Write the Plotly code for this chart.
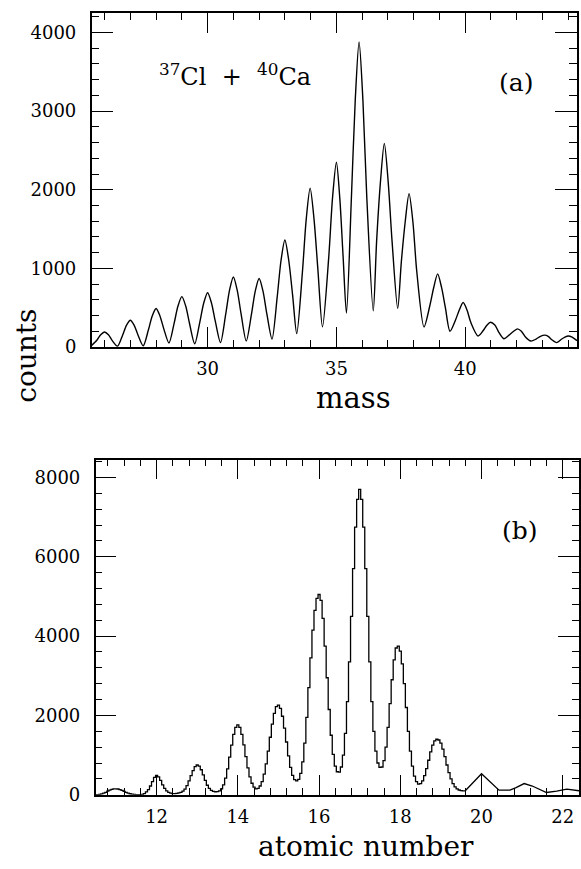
import plotly.graph_objects as go

# ---------------- panel (a): counts vs mass ----------------
MASS = [25.5, 25.7, 25.85, 26.0, 26.15, 26.3,
        26.5, 26.7, 26.85, 27.0, 27.15, 27.3,
        27.5, 27.7, 27.85, 28.0, 28.15, 28.3,
        28.5, 28.7, 28.85, 29.0, 29.15, 29.3,
        29.5, 29.7, 29.85, 30.0, 30.15, 30.3,
        30.5, 30.7, 30.85, 31.0, 31.15, 31.3,
        31.5, 31.7, 31.85, 32.0, 32.15, 32.3,
        32.5, 32.7, 32.85, 33.0, 33.15, 33.3,
        33.46, 33.68, 33.83, 33.98, 34.13, 34.28,
        34.46, 34.7, 34.85, 35.0, 35.13, 35.26,
        35.39, 35.58, 35.73, 35.88, 36.03, 36.18,
        36.43, 36.56, 36.71, 36.86, 37.01, 37.16,
        37.38, 37.52, 37.67, 37.82, 37.97, 38.12,
        38.40, 38.63, 38.78, 38.93, 39.08, 39.23,
        39.41, 39.62, 39.77, 39.92, 40.07, 40.22,
        40.5, 40.7, 40.85, 40.98, 41.15, 41.3,
        41.5, 41.7, 41.88, 42.03, 42.18, 42.33,
        42.55, 42.75, 42.92, 43.09, 43.22, 43.35,
        43.55, 43.72, 43.87, 44.0, 44.15, 44.34]
COUNTS_A = [20, 85, 155, 190, 155, 80,
            10, 150, 275, 340, 275, 150,
            15, 215, 395, 490, 395, 230,
            50, 300, 520, 640, 520, 295,
            40, 320, 560, 690, 560, 325,
            55, 410, 720, 890, 720, 420,
            75, 410, 710, 870, 710, 420,
            100, 630, 1100, 1360, 1100, 660,
            170, 950, 1630, 2020, 1630, 990,
            255, 1130, 1900, 2350, 1900, 1150,
            430, 1880, 3130, 3880, 3130, 1900,
            460, 1340, 2100, 2590, 2100, 1350,
            490, 1080, 1590, 1950, 1590, 960,
            255, 530, 760, 930, 760, 500,
            200, 340, 470, 565, 470, 310,
            140, 210, 280, 315, 280, 190,
            105, 150, 200, 230, 200, 130,
            75, 100, 135, 150, 135, 95,
            55, 95, 125, 140, 125, 80]

# ---------------- panel (b): counts vs atomic number ----------------
# histogram contents, bins of width 0.05 centred from Z = 10.50 upward
COUNTS_B = [5, 5, 10, 20, 40, 60, 90, 115, 135, 148,               # 10.50-10.95
            150, 145, 130, 110, 85, 60, 40, 25, 15, 10,            # 11.00-11.45
            5, 5, 5, 10, 30, 70, 130, 220, 330, 440,               # 11.50-11.95
            490, 450, 360, 250, 160, 100, 60, 40, 30, 30,          # 12.00-12.45
            35, 45, 60, 90, 140, 230, 350, 480, 610, 710,          # 12.50-12.95
            750, 720, 630, 500, 360, 240, 160, 110, 85, 75,        # 13.00-13.45
            80, 100, 150, 250, 420, 650, 950, 1250, 1520, 1700,    # 13.50-13.95
            1760, 1700, 1520, 1260, 960, 680, 450, 290, 190, 150,  # 14.00-14.45
            160, 220, 330, 520, 780, 1100, 1450, 1780, 2050, 2220, # 14.50-14.95
            2260, 2180, 1980, 1680, 1330, 980, 690, 490, 380, 350, # 15.00-15.45
            390, 540, 830, 1300, 1950, 2700, 3450, 4150, 4650, 4950,   # 15.50-15.95
            5050, 4900, 4450, 3750, 2950, 2150, 1500, 1020, 720, 580,  # 16.00-16.45
            570, 700, 1000, 1550, 2350, 3350, 4500, 5700, 6750, 7450,  # 16.50-16.95
            7700, 7450, 6750, 5700, 4500, 3350, 2350, 1600, 1100, 800, # 17.00-17.45
            690, 700, 860, 1200, 1700, 2300, 2900, 3400, 3700, 3750,   # 17.50-17.95
            3620, 3300, 2800, 2200, 1600, 1100, 720, 470, 330, 270,    # 18.00-18.45
            280, 350, 480, 660, 870, 1080, 1250, 1360, 1400, 1380,     # 18.50-18.95
            1300, 1150, 960, 750, 560, 400, 280, 200, 150, 120,        # 19.00-19.45
            105, 100, 100]                                             # 19.50-19.60
Z_START, Z_STEP = 10.5, 0.05
Z_BIN = [round(Z_START + Z_STEP * i, 2) for i in range(len(COUNTS_B))]

# high-Z tail drawn with straight segments
Z_TAIL = [19.6, 20.0, 20.43, 20.7, 20.85, 21.05, 21.25, 21.6, 21.85, 22.1, 22.4]
COUNTS_TAIL = [100, 530, 117, 115, 180, 282, 220, 57, 90, 140, 100]

FONT = "DejaVu Serif"
W, H = 581, 869

fig = go.Figure()
fig.add_trace(go.Scatter(x=MASS, y=COUNTS_A, mode="lines",
                         line=dict(color="black", width=1.4, shape="spline", smoothing=0.8),
                         xaxis="x", yaxis="y", showlegend=False, hoverinfo="skip"))
fig.add_trace(go.Scatter(x=Z_BIN, y=COUNTS_B, mode="lines",
                         line=dict(color="black", width=1.3, shape="hvh"),
                         xaxis="x2", yaxis="y2", showlegend=False, hoverinfo="skip"))
fig.add_trace(go.Scatter(x=Z_TAIL, y=COUNTS_TAIL, mode="lines",
                         line=dict(color="black", width=1.3),
                         xaxis="x2", yaxis="y2", showlegend=False, hoverinfo="skip"))

def ax(**kw):
    base = dict(showline=True, linecolor="black", linewidth=1.5, mirror="allticks",
                ticks="inside", tickcolor="black", tickwidth=1.3,
                showgrid=False, zeroline=False,
                tickfont=dict(family=FONT, size=18, color="black"))
    base.update(kw)
    return base

fig.update_layout(
    width=W, height=H, margin=dict(l=0, r=0, t=0, b=0),
    paper_bgcolor="white", plot_bgcolor="white",
    xaxis=ax(domain=[92 / W, 579 / W], range=[25.5, 44.34], anchor="y",
             tick0=0, dtick=5, ticklen=20, ticklabelstandoff=5,
             minor=dict(ticks="inside", dtick=1, ticklen=7, tickcolor="black", tickwidth=1.2)),
    yaxis=ax(domain=[1 - 351 / H, 1 - 13 / H], range=[0, 4250], anchor="x",
             tick0=0, dtick=1000, ticklen=22, ticklabelstandoff=10,
             minor=dict(ticks="inside", dtick=200, ticklen=8, tickcolor="black", tickwidth=1.2)),
    xaxis2=ax(domain=[96 / W, 1.0], range=[10.5, 22.4], anchor="y2",
              tick0=0, dtick=2, ticklen=20, ticklabelstandoff=5,
              minor=dict(ticks="inside", dtick=0.4, ticklen=7, tickcolor="black", tickwidth=1.2)),
    yaxis2=ax(domain=[1 - 804 / H, 1 - 465 / H], range=[0, 8450], anchor="x2",
              tick0=0, dtick=2000, ticklen=21, ticklabelstandoff=10,
              minor=dict(ticks="inside", dtick=400, ticklen=7, tickcolor="black", tickwidth=1.2)),
)

def note(text, xpx, ypx, size, angle=0):
    fig.add_annotation(text=text, xref="paper", yref="paper",
                       x=xpx / W, y=1 - ypx / H, xanchor="center", yanchor="middle",
                       showarrow=False, textangle=angle,
                       font=dict(family=FONT, size=size, color="black"))

note("<sup>37</sup>Cl  +  <sup>40</sup>Ca", 236, 76, 24)
note("(a)", 518, 83, 25)
note("(b)", 522, 537, 25)
note("counts", 27, 360, 28, angle=-90)
note("mass", 355, 403, 29)
note("atomic number", 367, 856, 28)

fig.write_html("out.html")
